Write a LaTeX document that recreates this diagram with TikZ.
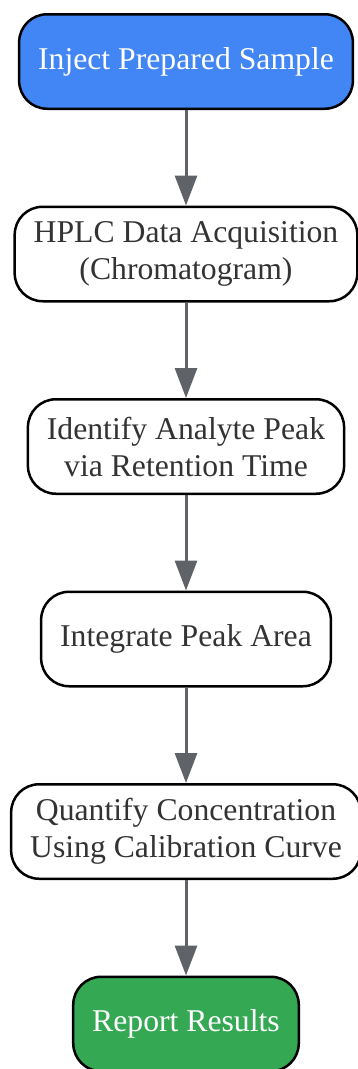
\documentclass[tikz,border=0pt]{standalone}
\usepackage{fontspec}
\setmainfont{Liberation Serif}
\usetikzlibrary{positioning}
\usetikzlibrary{arrows.meta}

\definecolor{injectblue}{HTML}{4285F4}
\definecolor{reportgreen}{HTML}{34A853}
\definecolor{flowgray}{HTML}{5F6368}
\definecolor{textgray}{HTML}{333333}

\begin{document}
\begin{tikzpicture} [x=1pt, y=1pt, node distance=95.5pt,
  stepbox/.style={draw=black, line width=2.5pt, rounded corners=28pt, fill=white,
    text=textgray, align=center, minimum height=94.5pt, inner xsep=19pt,
    font=\fontsize{31.7}{37}\selectfont},
  startbox/.style={stepbox, fill=injectblue, text=white},
  endbox/.style={stepbox, fill=reportgreen, text=white}]
\useasboundingbox (0,0) rectangle (358,-1069);
\clip (0,0) rectangle (358,-1069);
\node[startbox] (inject) at (186,-61.5) {Inject Prepared Sample};
\node[stepbox, below=of inject] (acquire) {HPLC Data Acquisition\\(Chromatogram)};
\node[stepbox, below=of acquire] (identify) {Identify Analyte Peak\\via Retention Time};
\node[stepbox, below=of identify] (integrate) {Integrate Peak Area};
\node[stepbox, below=of integrate] (quantify) {Quantify Concentration\\Using Calibration Curve};
\node[endbox, below=of quantify] (report) {Report Results};
\foreach \a/\b in {inject/acquire, acquire/identify, identify/integrate,
  integrate/quantify, quantify/report} {
 \draw[flowgray, line width=3pt, -{Triangle[length=30pt, width=22pt]}] (\a) -- (\b);
}
\end{tikzpicture}
\end{document}
